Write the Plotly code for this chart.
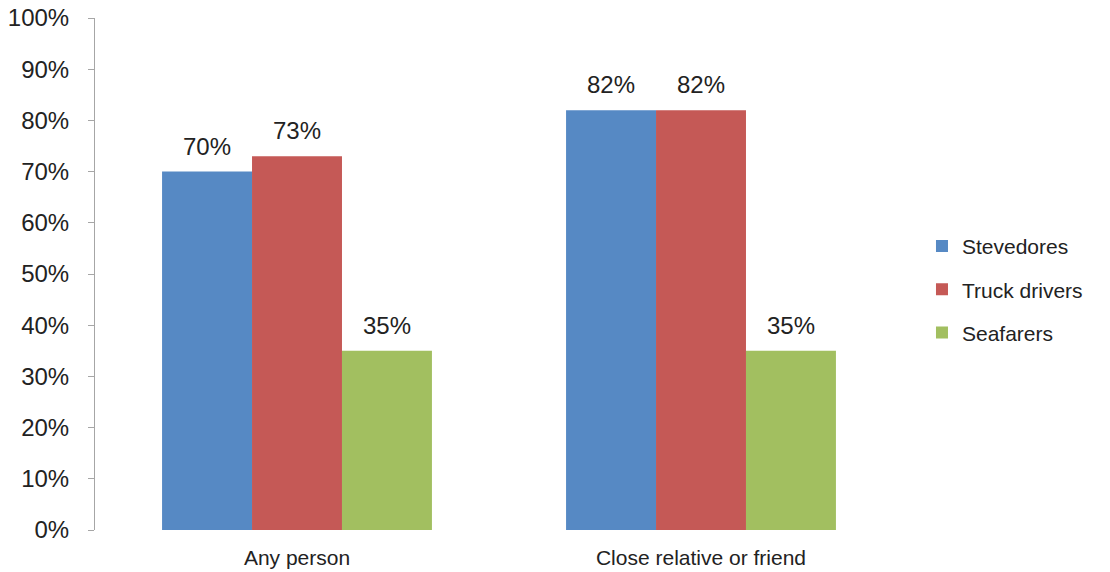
import plotly.graph_objects as go

categories = ['Any person', 'Close relative or friend']
series_names = ['Stevedores', 'Truck drivers', 'Seafarers']
stevedores = [0.70, 0.82]
truck_drivers = [0.73, 0.82]
seafarers = [0.35, 0.35]
colors = ['#5689C4', '#C55956', '#A2BF60']

values = [stevedores, truck_drivers, seafarers]

fig = go.Figure()
for name, vals, col in zip(series_names, values, colors):
    fig.add_trace(go.Bar(x=categories, y=vals, name=name, marker_color=col,
                         marker_line_width=0, legendgroup=name))

# value labels sit well above the bars, so draw them as annotations
shifts = [-90, 0, 90]
annotations = []
for vals, xs in zip(values, shifts):
    for c, v in zip(categories, vals):
        annotations.append(dict(x=c, y=v, xref='x', yref='y', text=f'{v:.0%}',
                                showarrow=False, xshift=xs, yshift=10, yanchor='bottom',
                                font=dict(size=24, color='#222222',
                                          family='Liberation Sans, Arial')))

# page body adds 8px, so the figure is made 8px smaller each way
fig.update_layout(
    width=1102, height=564,
    margin=dict(l=87, r=207, t=10, b=42),
    plot_bgcolor='white', paper_bgcolor='white',
    barmode='group', bargap=0.332, bargroupgap=0,
    font=dict(family='Liberation Sans, Arial', color='#222222'),
    showlegend=True,
    legend=dict(x=1.0235, y=0.47, xanchor='left', yanchor='middle',
                font=dict(size=21), itemwidth=30, tracegroupgap=13,
                traceorder='grouped', bgcolor='rgba(0,0,0,0)'),
    annotations=annotations,
)
fig.update_yaxes(range=[0, 1], dtick=0.1, tickformat='.0%', showgrid=False,
                 zeroline=False, showline=True, linecolor='#A6A6A6', linewidth=1,
                 ticks='outside', ticklen=6, tickcolor='#A6A6A6', automargin=False,
                 ticklabeloverflow='allow', ticklabelstandoff=14,
                 tickfont=dict(size=24))
fig.update_xaxes(showgrid=False, zeroline=False, showline=False, ticks='',
                 automargin=False, ticklabeloverflow='allow', ticklabelstandoff=13,
                 tickfont=dict(size=21))

fig.write_html("out.html")
